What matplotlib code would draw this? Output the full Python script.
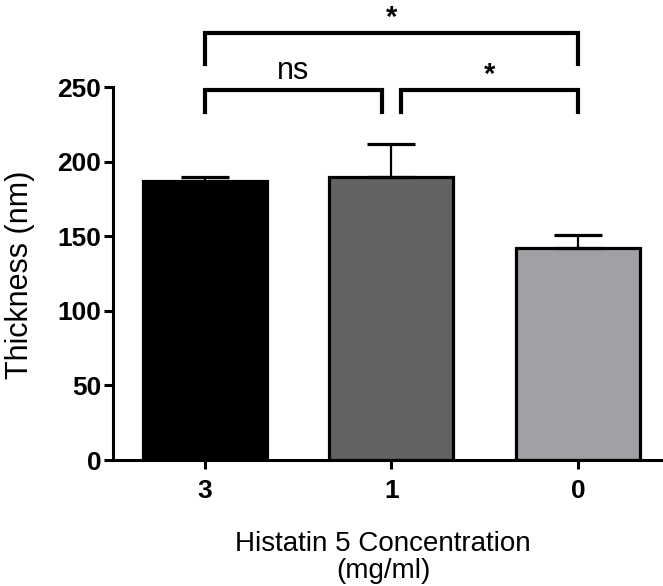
import numpy as np
import matplotlib
matplotlib.use("Agg")
import matplotlib.pyplot as plt

# data
categories = ["3", "1", "0"]
means = [187, 190, 142]
errors = [3, 22, 9]
colors = ["#000000", "#636363", "#a1a1a5"]

# significance brackets: (left bar, right bar, label)
brackets = [(0, 1, "ns"), (1, 2, "*"), (0, 2, "*")]

plt.rcParams["font.family"] = ["Liberation Sans", "DejaVu Sans"]

fig = plt.figure(figsize=(6.63, 5.86), dpi=100)
ax = fig.add_axes([0.1704, 0.215, 0.8296, 0.6365])

x = np.arange(len(categories))
ax.bar(x, means, width=0.665, color=colors, edgecolor="black", linewidth=2.3,
       yerr=[[0] * len(errors), errors], capsize=17,
       error_kw=dict(elinewidth=1.6, capthick=2.3, ecolor="black"), zorder=2)

ax.set_xlim(-0.493, 2.456)
ax.set_ylim(0, 250)
ax.set_yticks([0, 50, 100, 150, 200, 250])
ax.set_xticks(x)
ax.set_xticklabels(categories)

for s in ["top", "right"]:
    ax.spines[s].set_visible(False)
for s in ["left", "bottom"]:
    ax.spines[s].set_linewidth(2.2)
ax.tick_params(width=2.2, length=6.5, labelsize=19)
ax.tick_params(axis="x", pad=7)
ax.tick_params(axis="y", pad=2)
for lab in ax.get_xticklabels() + ax.get_yticklabels():
    lab.set_fontweight("bold")

ax.set_ylabel("Thickness (nm)", fontsize=22)
ax.yaxis.set_label_coords(-0.142, 0.496)
ax.set_xlabel("Histatin 5 Concentration\n(mg/ml)", fontsize=20, linespacing=1.05)
ax.xaxis.set_label_coords(0.491, -0.19)

# brackets
gap = 0.05
for a, b, lab in brackets:
    if b - a == 2:
        x0, x1, top, bot = a, b, 286, 265.5
    else:
        x0 = a + (gap if a == 1 else 0)
        x1 = b - (gap if b == 1 else 0)
        top, bot = 248, 233
    ax.plot([x0, x0, x1, x1], [bot, top, top, bot], color="black", lw=3,
            solid_joinstyle="miter", clip_on=False)
    if lab == "ns":
        ax.text((x0 + x1) / 2, top + 3, lab, ha="center", va="bottom", fontsize=22)
    else:
        ax.text((x0 + x1) / 2, top + 1, lab, ha="center", va="bottom", fontsize=21,
                fontweight="bold")

fig.savefig("out.png", dpi=100)
